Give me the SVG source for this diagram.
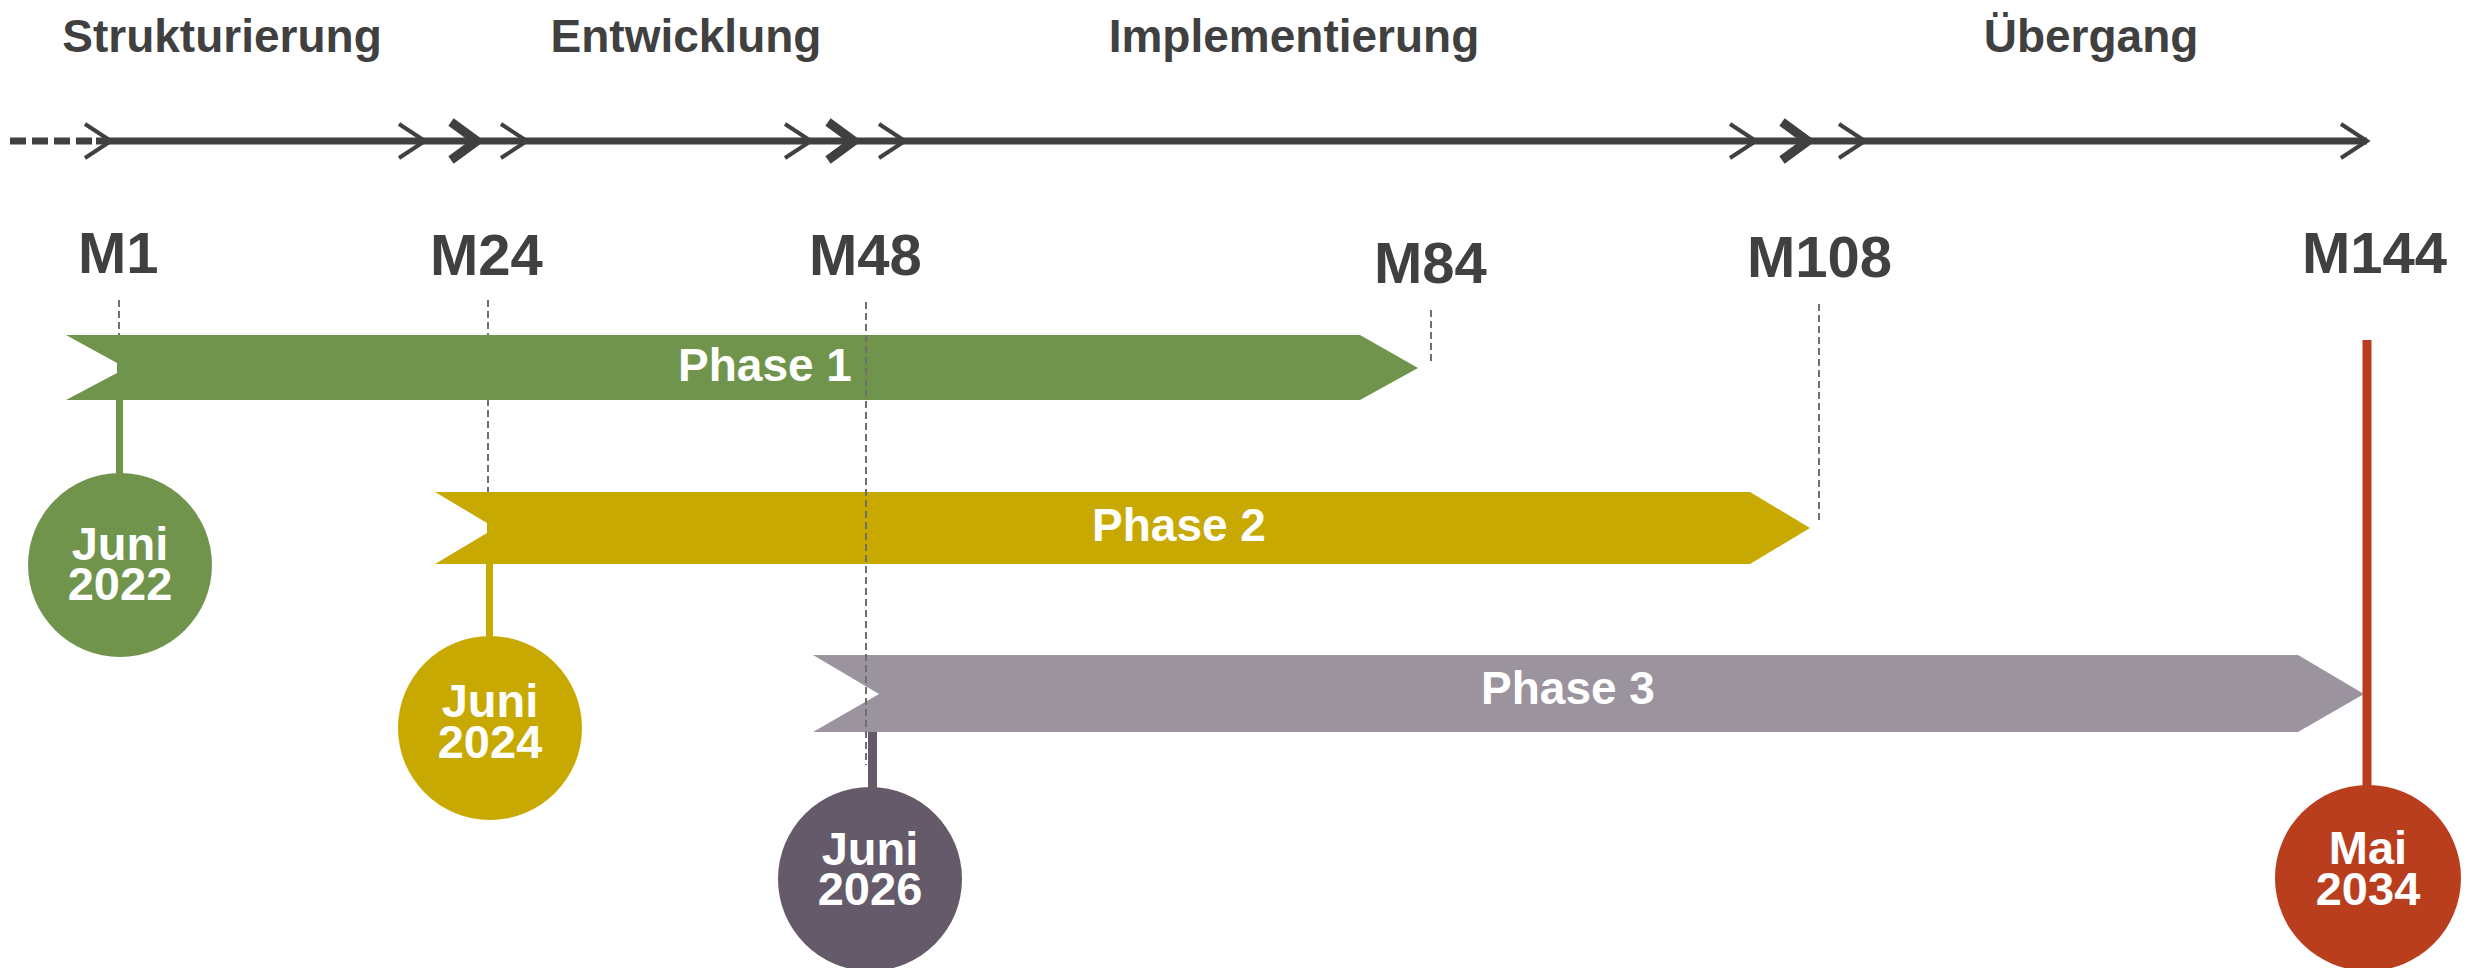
<svg xmlns="http://www.w3.org/2000/svg" xmlns:xlink="http://www.w3.org/1999/xlink" width="2481" height="968" viewBox="0 0 2481 968">
  <style>
    .head { font-family: "Liberation Sans", Arial, sans-serif; font-weight: bold; font-size: 46px; fill: #404040; text-anchor: middle; }
    .ms { font-family: "Liberation Sans", Arial, sans-serif; font-weight: bold; font-size: 58px; fill: #404040; }
    .phase { font-family: "Liberation Sans", Arial, sans-serif; font-weight: bold; font-size: 46px; fill: #ffffff; text-anchor: middle; }
    .date { font-family: "Liberation Sans", Arial, sans-serif; font-weight: bold; font-size: 47px; fill: #ffffff; text-anchor: middle; }
    .axis { stroke: #404040; stroke-width: 7; fill: none; }
    .thin { stroke: #404040; stroke-width: 4; fill: none; stroke-linejoin: miter; stroke-miterlimit: 10; }
    .bold { stroke: #404040; stroke-width: 9; fill: none; stroke-linejoin: miter; stroke-miterlimit: 10; }
    .guide { stroke: #6f6f6f; stroke-width: 2; stroke-dasharray: 7 4; fill: none; }
  </style>
  <defs>
    <path id="chevThin" d="M-26,-17 L0,0 L-26,17"/>
    <path id="chevBold" d="M-26,-19 L0,0 L-26,19"/>
  </defs>

  <g id="headings">
    <text class="head" x="222" y="52">Strukturierung</text>
    <text class="head" x="686" y="52">Entwicklung</text>
    <text class="head" x="1294" y="52">Implementierung</text>
    <text class="head" x="2091" y="52">Übergang</text>
  </g>

  <g id="connectors">
    <line class="axis" x1="10" y1="141" x2="96" y2="141" stroke-dasharray="16 6"/>
    <line class="axis" x1="96" y1="141" x2="2367" y2="141"/>
    <use xlink:href="#chevThin" class="thin" x="111" y="141"/>
    <use xlink:href="#chevThin" class="thin" x="425" y="141"/>
    <use xlink:href="#chevBold" class="bold" x="477" y="141"/>
    <use xlink:href="#chevThin" class="thin" x="527" y="141"/>
    <use xlink:href="#chevThin" class="thin" x="811" y="141"/>
    <use xlink:href="#chevBold" class="bold" x="854" y="141"/>
    <use xlink:href="#chevThin" class="thin" x="905" y="141"/>
    <use xlink:href="#chevThin" class="thin" x="1756" y="141"/>
    <use xlink:href="#chevBold" class="bold" x="1808" y="141"/>
    <use xlink:href="#chevThin" class="thin" x="1865" y="141"/>
    <use xlink:href="#chevThin" class="thin" x="2367" y="141"/>
    <line class="guide" x1="119" y1="300" x2="119" y2="335"/>
    <line class="guide" x1="488" y1="300" x2="488" y2="492"/>
    <line class="guide" x1="1431" y1="310" x2="1431" y2="362"/>
    <line class="guide" x1="1819" y1="304" x2="1819" y2="524"/>
  </g>

  <g id="milestone-labels">
    <text class="ms" x="78" y="273">M1</text>
    <text class="ms" x="430" y="275">M24</text>
    <text class="ms" x="809" y="275">M48</text>
    <text class="ms" x="1374" y="283">M84</text>
    <text class="ms" x="1747" y="277">M108</text>
    <text class="ms" x="2302" y="273">M144</text>
  </g>

  <g id="phase1">
    <polygon points="66,335 1360,335 1418,368 1360,400 66,400 117,373 117,363" fill="#71944c"/>
    <text class="phase" x="765" y="381">Phase 1</text>
  </g>
  <g id="phase2">
    <polygon points="435,492 1750,492 1810,528 1750,564 435,564 487,533 487,523" fill="#c8a902"/>
    <text class="phase" x="1179" y="541">Phase 2</text>
  </g>
  <g id="phase3">
    <polygon points="813,655 2298,655 2364,694 2298,732 813,732 879,694" fill="#9b939e"/>
    <text class="phase" x="1568" y="704">Phase 3</text>
  </g>

  <g id="stems">
    <line x1="119.5" y1="400" x2="119.5" y2="475" stroke="#71944c" stroke-width="7"/>
    <line x1="489.5" y1="564" x2="489.5" y2="637" stroke="#c8a902" stroke-width="7"/>
    <line x1="872.5" y1="732" x2="872.5" y2="789" stroke="#645a69" stroke-width="9"/>
    <line x1="2367" y1="340" x2="2367" y2="788" stroke="#b83e1e" stroke-width="9"/>
    <line class="guide" x1="866" y1="302" x2="866" y2="765"/>
  </g>

  <g id="date-juni-2022">
    <circle cx="120" cy="565" r="92" fill="#71944c"/>
    <text class="date"><tspan x="120" y="560">Juni</tspan><tspan x="120" y="600">2022</tspan></text>
  </g>
  <g id="date-juni-2024">
    <circle cx="490" cy="728" r="92" fill="#c8a902"/>
    <text class="date"><tspan x="490" y="717">Juni</tspan><tspan x="490" y="758">2024</tspan></text>
  </g>
  <g id="date-juni-2026">
    <circle cx="870" cy="879" r="92" fill="#645a69"/>
    <text class="date"><tspan x="870" y="865">Juni</tspan><tspan x="870" y="905">2026</tspan></text>
  </g>
  <g id="date-mai-2034">
    <circle cx="2368" cy="878" r="93" fill="#b83e1e"/>
    <text class="date"><tspan x="2368" y="864">Mai</tspan><tspan x="2368" y="905">2034</tspan></text>
  </g>
</svg>
